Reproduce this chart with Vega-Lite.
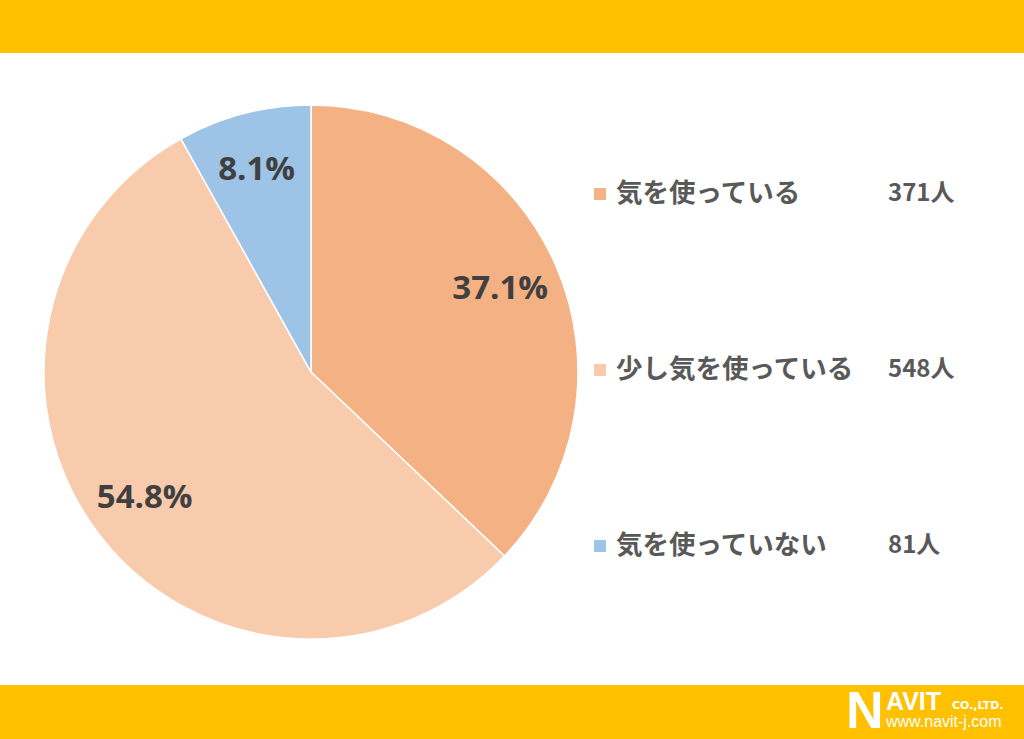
{
  "$schema": "https://vega.github.io/schema/vega-lite/v6.json",
  "autosize": {"type": "fit", "contains": "padding"},
  "width": 1024,
  "height": 739,
  "padding": 0,
  "background": "#FFFFFF",
  "config": {"view": {"stroke": null}},
  "datasets": {
    "answers": [
      {"category": "気を使っている", "count": 371, "pct": "37.1%", "countLabel": "371人", "order": 1},
      {"category": "少し気を使っている", "count": 548, "pct": "54.8%", "countLabel": "548人", "order": 2},
      {"category": "気を使っていない", "count": 81, "pct": "8.1%", "countLabel": "81人", "order": 3}
    ],
    "banner": [{"name": "banner"}]
  },
  "layer": [
    {
      "data": {"name": "banner"},
      "mark": {"type": "rect", "color": "#FFC000"},
      "encoding": {"x": {"value": 0}, "x2": {"value": 1024}, "y": {"value": 0}, "y2": {"value": 53}}
    },
    {
      "data": {"name": "banner"},
      "mark": {"type": "rect", "color": "#FFC000"},
      "encoding": {"x": {"value": 0}, "x2": {"value": 1024}, "y": {"value": 685}, "y2": {"value": 739}}
    },
    {
      "data": {"name": "answers"},
      "mark": {"type": "arc", "radius": 267, "stroke": "#FFFFFF", "strokeWidth": 1.5},
      "encoding": {
        "theta": {"field": "count", "type": "quantitative", "stack": true},
        "order": {"field": "order", "type": "quantitative"},
        "color": {
          "field": "category", "type": "nominal", "legend": null,
          "scale": {"domain": ["気を使っている", "少し気を使っている", "気を使っていない"], "range": ["#F4B183", "#F8CBAD", "#9DC3E6"]}
        },
        "x": {"value": 311},
        "y": {"value": 372}
      }
    },
    {
      "data": {"name": "answers"},
      "mark": {"type": "text", "radius": 208, "font": "Open Sans", "fontWeight": "bold", "fontSize": 33, "color": "#404040", "align": "center", "baseline": "middle"},
      "encoding": {
        "theta": {"field": "count", "type": "quantitative", "stack": true},
        "order": {"field": "order", "type": "quantitative"},
        "text": {"field": "pct", "type": "nominal"},
        "x": {"value": 309},
        "y": {"value": 371}
      }
    },
    {
      "data": {"name": "answers"},
      "mark": {"type": "point", "shape": "square", "filled": true, "size": 144, "opacity": 1},
      "encoding": {
        "x": {"value": 600},
        "y": {"field": "category", "type": "nominal", "axis": null, "sort": ["気を使っている", "少し気を使っている", "気を使っていない"], "scale": {"type": "point", "padding": 0, "range": [194, 546]}},
        "color": {"field": "category", "type": "nominal", "legend": null}
      }
    },
    {
      "data": {"name": "answers"},
      "mark": {"type": "text", "align": "left", "baseline": "middle", "font": "Noto Sans CJK JP", "fontWeight": "bold", "fontSize": 26.5, "color": "#595959"},
      "encoding": {
        "x": {"value": 616},
        "y": {"field": "category", "type": "nominal", "axis": null, "sort": ["気を使っている", "少し気を使っている", "気を使っていない"]},
        "text": {"field": "category", "type": "nominal"}
      }
    },
    {
      "data": {"name": "answers"},
      "mark": {"type": "text", "align": "left", "baseline": "middle", "font": "Noto Sans CJK JP", "fontWeight": "bold", "fontSize": 24, "color": "#595959"},
      "encoding": {
        "x": {"value": 888},
        "y": {"field": "category", "type": "nominal", "axis": null, "sort": ["気を使っている", "少し気を使っている", "気を使っていない"]},
        "text": {"field": "countLabel", "type": "nominal"}
      }
    },
    {
      "data": {"name": "banner"},
      "mark": {"type": "text", "text": "N", "align": "left", "baseline": "alphabetic", "font": "Liberation Sans", "fontWeight": "bold", "fontSize": 52, "color": "#FFFFFF"},
      "encoding": {"x": {"value": 846}, "y": {"value": 728}}
    },
    {
      "data": {"name": "banner"},
      "mark": {"type": "text", "text": "AVIT", "align": "left", "baseline": "alphabetic", "font": "Liberation Sans", "fontWeight": "bold", "fontSize": 25, "color": "#FFFFFF"},
      "encoding": {"x": {"value": 886}, "y": {"value": 710}}
    },
    {
      "data": {"name": "banner"},
      "mark": {"type": "text", "text": "CO.,LTD.", "align": "left", "baseline": "alphabetic", "font": "DejaVu Sans", "fontWeight": "bold", "fontSize": 11, "color": "#FFFFFF"},
      "encoding": {"x": {"value": 952}, "y": {"value": 709}}
    },
    {
      "data": {"name": "banner"},
      "mark": {"type": "text", "text": "www.navit-j.com", "align": "left", "baseline": "alphabetic", "font": "Liberation Sans", "fontSize": 16, "color": "#FFFFFF"},
      "encoding": {"x": {"value": 886}, "y": {"value": 727}}
    }
  ]
}
